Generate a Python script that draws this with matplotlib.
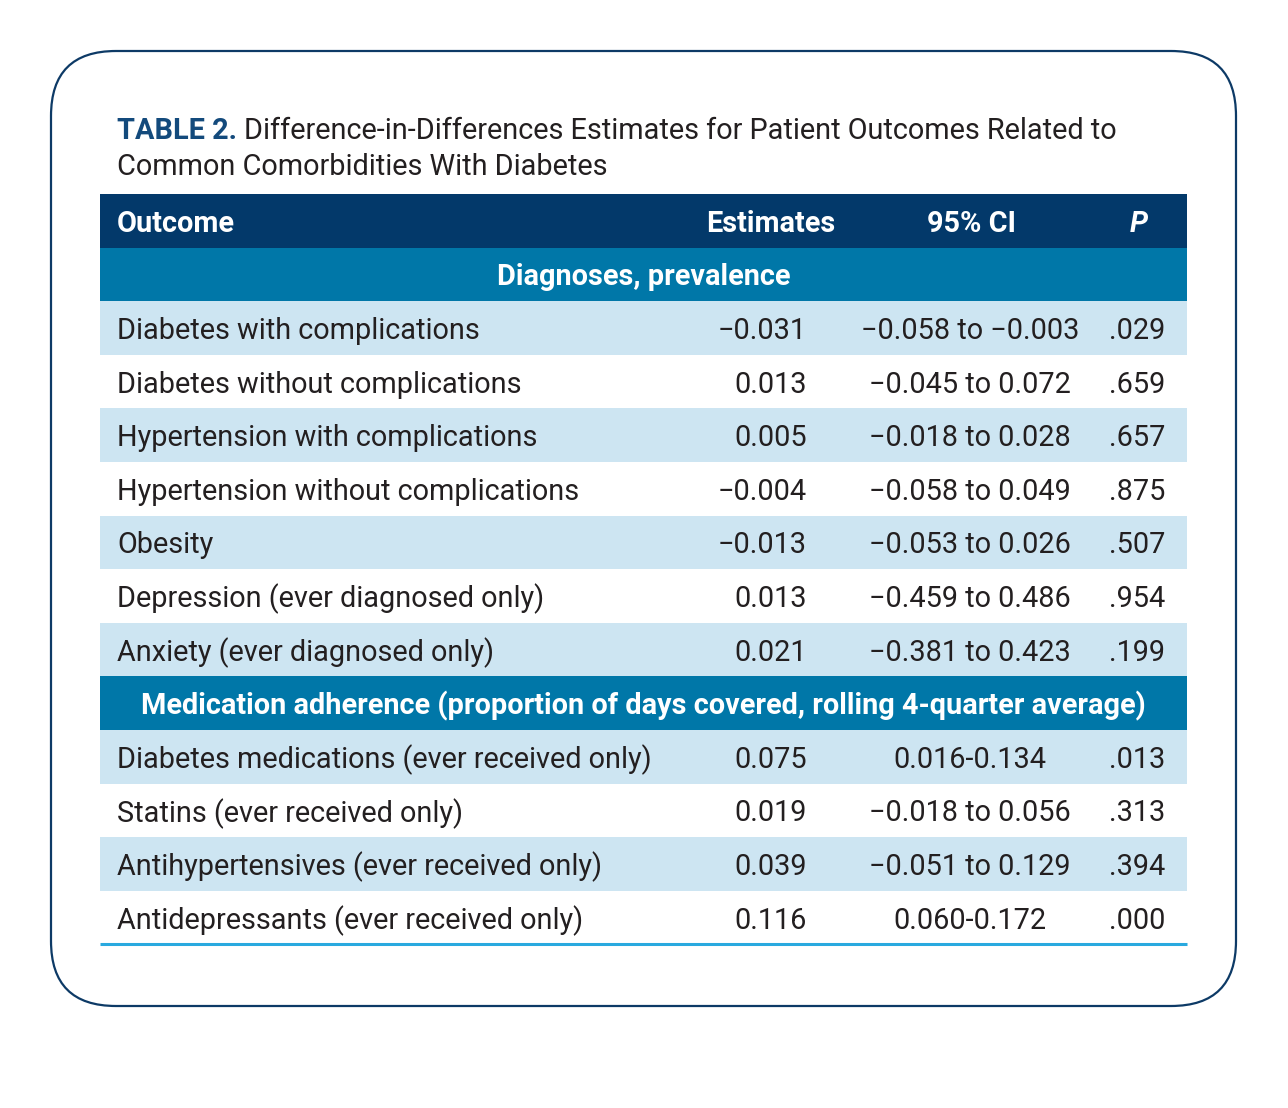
import matplotlib.pyplot as plt
from matplotlib.patches import FancyBboxPatch, Rectangle

plt.rcParams['font.family'] = ['Roboto', 'DejaVu Sans']

title_bold = "TABLE 2."
title_rest = "Difference-in-Differences Estimates for Patient Outcomes Related to"
title_line2 = "Common Comorbidities With Diabetes"

col_headers = ["Outcome", "Estimates", "95% CI", "P"]

section1 = "Diagnoses, prevalence"
outcomes1 = ["Diabetes with complications", "Diabetes without complications",
             "Hypertension with complications", "Hypertension without complications",
             "Obesity", "Depression (ever diagnosed only)", "Anxiety (ever diagnosed only)"]
estimates1 = ["\u22120.031", "0.013", "0.005", "\u22120.004", "\u22120.013", "0.013", "0.021"]
ci1 = ["\u22120.058 to \u22120.003", "\u22120.045 to 0.072", "\u22120.018 to 0.028",
       "\u22120.058 to 0.049", "\u22120.053 to 0.026", "\u22120.459 to 0.486", "\u22120.381 to 0.423"]
p1 = [".029", ".659", ".657", ".875", ".507", ".954", ".199"]

section2 = "Medication adherence (proportion of days covered, rolling 4-quarter average)"
outcomes2 = ["Diabetes medications (ever received only)", "Statins (ever received only)",
             "Antihypertensives (ever received only)", "Antidepressants (ever received only)"]
estimates2 = ["0.075", "0.019", "0.039", "0.116"]
ci2 = ["0.016-0.134", "\u22120.018 to 0.056", "\u22120.051 to 0.129", "0.060-0.172"]
p2 = [".013", ".313", ".394", ".000"]

navy = "#03396a"
teal = "#0077a8"
light = "#cde5f2"
txt = "#231f20"

W, H = 1288, 1108
fig = plt.figure(figsize=(W / 100, H / 100), dpi=100)
ax = fig.add_axes([0, 0, 1, 1])
ax.set_xlim(0, W)
ax.set_ylim(H, 0)
ax.axis("off")

# rounded frame
frame = FancyBboxPatch((51, 51), 1185, 955, boxstyle="round,pad=0,rounding_size=65",
                       fc="white", ec="#0d3a66", lw=1.6)
ax.add_patch(frame)

fs = 20.8
# title
t = ax.text(117, 131, title_bold, fontsize=fs, fontweight="bold", color="#134a7c", va="center")
fig.canvas.draw()
bb = t.get_window_extent()
x0 = bb.x1 + 7
ax.text(x0, 131, title_rest, fontsize=fs, color=txt, va="center")
ax.text(117, 167, title_line2, fontsize=fs, color=txt, va="center")

left, right = 100, 1187
top = 194
rh = 53.6
dy = 3
x_out, x_est, x_ci, x_p = 117, 807, 970, 1137

# header row
ax.add_patch(Rectangle((left, top), right - left, rh, fc=navy, ec="none"))
yc = top + rh / 2 + dy
ax.text(x_out, yc, col_headers[0], fontsize=fs, fontweight="bold", color="white", va="center")
ax.text(771, yc, col_headers[1], fontsize=fs, fontweight="bold", color="white", va="center", ha="center")
ax.text(972, yc, col_headers[2], fontsize=fs, fontweight="bold", color="white", va="center", ha="center")
ax.text(1139, yc, col_headers[3], fontsize=fs, fontweight="bold", fontstyle="italic", color="white",
        va="center", ha="center")


def section(label, row):
    y = top + row * rh
    ax.add_patch(Rectangle((left, y), right - left, rh, fc=teal, ec="none"))
    ax.text((left + right) / 2, y + rh / 2 + dy, label, fontsize=fs, fontweight="bold", color="white",
            va="center", ha="center")


def data_rows(outs, ests, cis, ps, row):
    for i in range(len(outs)):
        y = top + (row + i) * rh
        if i % 2 == 0:
            ax.add_patch(Rectangle((left, y), right - left, rh, fc=light, ec="none"))
        yc = y + rh / 2 + dy
        ax.text(x_out, yc, outs[i], fontsize=fs, color=txt, va="center")
        ax.text(x_est, yc, ests[i], fontsize=fs, color=txt, va="center", ha="right")
        ax.text(x_ci, yc, cis[i], fontsize=fs, color=txt, va="center", ha="center")
        ax.text(x_p, yc, ps[i], fontsize=fs, color=txt, va="center", ha="center")


section(section1, 1)
data_rows(outcomes1, estimates1, ci1, p1, 2)
section(section2, 2 + len(outcomes1))
data_rows(outcomes2, estimates2, ci2, p2, 3 + len(outcomes1))

ybot = top + (3 + len(outcomes1) + len(outcomes2)) * rh
ax.plot([left, right], [ybot, ybot], color="#29a9df", lw=2.2, solid_capstyle="butt")

fig.savefig("out.png", dpi=100)
